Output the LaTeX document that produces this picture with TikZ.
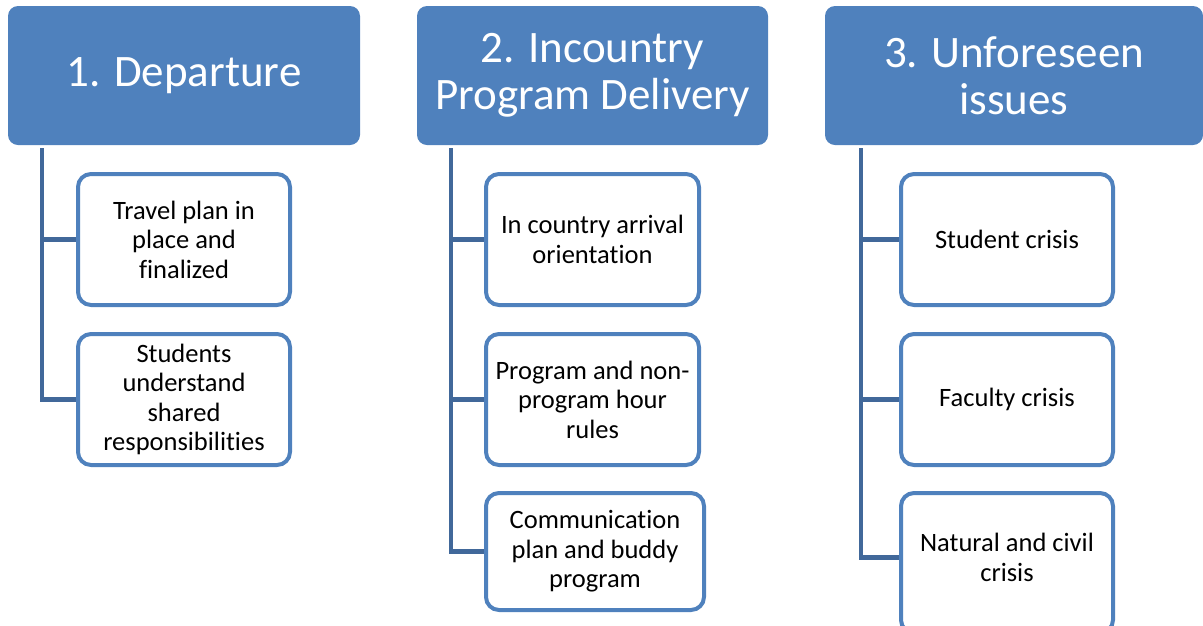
\documentclass[tikz,border=0pt]{standalone}
\usepackage{fontspec}
\setmainfont{Carlito}[Ligatures=NoCommon]
\definecolor{hdrblue}{HTML}{4F81BD}
\definecolor{connblue}{HTML}{41689A}
\begin{document}
\begin{tikzpicture}[x=1pt,y=-1pt,
  header/.style={rectangle, rounded corners=10pt, fill=hdrblue, draw=none, text=white,
    align=center, font=\fontsize{45}{47}\selectfont, minimum height=139pt, inner sep=0pt},
  child/.style={rectangle, rounded corners=13pt, draw=hdrblue, line width=4pt, fill=white,
    align=center, font=\fontsize{26.5}{29.5}\selectfont, inner sep=0pt},
  childtext/.style={align=center, font=\fontsize{26.5}{29.5}\selectfont, inner sep=0pt},
  conn/.style={draw=connblue, line width=4.5pt}]
\useasboundingbox (0,0) rectangle (1203,625);

% headers
\node[header, minimum width=352pt] (h1) at (184,75.5) {1. Departure};
\node[header, minimum width=351pt] (h2) at (592.5,75.5) {2. Incountry\\Program Delivery};
\node[header, minimum width=378pt] (h3) at (1014,75.5) {3. Unforeseen\\issues};

% column 1
\node[child, minimum width=212pt, minimum height=131pt] (c1a) at (184,239.5) {Travel plan in\\place and\\finalized};
\node[child, minimum width=212pt, minimum height=131pt] (c1b) at (184,399.5) {Students\\understand\\shared\\responsibilities};

% column 2
\node[child, minimum width=213pt, minimum height=131pt] (c2a) at (592.5,239.5) {In country arrival\\orientation};
\node[child, minimum width=213pt, minimum height=131pt] (c2b) at (592.5,399.5) {Program and non-\\program hour\\rules};
\node[child, minimum width=218pt, minimum height=117pt] (c2c) at (595,551.5) {Communication\\plan and buddy\\program};

% column 3
\node[child, minimum width=212pt, minimum height=131pt] (c3a) at (1007,239.5) {Student crisis};
\node[child, minimum width=212pt, minimum height=131pt] (c3b) at (1007,399.5) {Faculty crisis};
\node[child, minimum width=212pt, minimum height=140pt] (c3c) at (1007,563) {};
\node[childtext] (c3ct) at (1007,557.5) {Natural and civil\\crisis};

% connector tops
\coordinate (t1) at ([xshift=34pt, yshift=-3pt]h1.south west);
\coordinate (t2) at ([xshift=34pt, yshift=-3pt]h2.south west);
\coordinate (t3) at ([xshift=36pt, yshift=-3pt]h3.south west);

\draw[conn] (t1) |- (c1b.west);
\draw[conn] (t1) |- (c1a.west);
\draw[conn] (t2) |- (c2c.west);
\draw[conn] (t2) |- (c2b.west);
\draw[conn] (t2) |- (c2a.west);
\draw[conn] (t3) |- (c3ct.west -| c3c.west);
\draw[conn] (t3) |- (c3b.west);
\draw[conn] (t3) |- (c3a.west);
\end{tikzpicture}
\end{document}
